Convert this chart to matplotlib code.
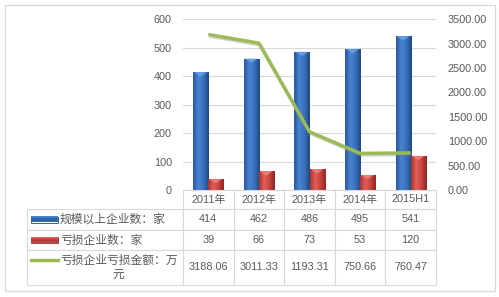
import numpy as np
import matplotlib
matplotlib.use("Agg")
import matplotlib.pyplot as plt
from matplotlib.patches import Rectangle, Polygon
from matplotlib.lines import Line2D
from matplotlib.colors import LinearSegmentedColormap
import matplotlib.patheffects as pe

plt.rcParams['font.family'] = ['Liberation Sans', 'Noto Sans CJK SC', 'DejaVu Sans']

categories = ['2011年', '2012年', '2013年', '2014年', '2015H1']
firms_total = [414, 462, 486, 495, 541]
firms_loss = [39, 66, 73, 53, 120]
loss_amount = [3188.06, 3011.33, 1193.31, 750.66, 760.47]
series_names = ['规模以上企业数：家', '亏损企业数：家', '亏损企业亏损金额：万\n元']
loss_amount_labels = ['3188.06', '3011.33', '1193.31', '750.66', '760.47']

TXT = '#595959'
GRID = '#D9D9D9'

W, H = 499, 297
fig = plt.figure(figsize=(W / 100, H / 100), dpi=100)

# layout in pixels
ax_l, ax_r, ax_b, ax_t = 183, 436, 190, 19.3
ax = fig.add_axes([ax_l / W, (H - ax_b) / H, (ax_r - ax_l) / W, (ax_b - ax_t) / H])
axw, axh = ax_r - ax_l, ax_b - ax_t

# outer frame
fig.patches.append(Rectangle((5 / W, (H - 291) / H), 490 / W, 286 / H,
                             transform=fig.transFigure, fill=False,
                             edgecolor=GRID, linewidth=0.9))

x = np.arange(len(categories))
bw = 0.3

blue_cmap = LinearSegmentedColormap.from_list('b', ['#2a5798', '#4a85d0', '#3a70bb', '#1f4780'])
red_cmap = LinearSegmentedColormap.from_list('r', ['#a93330', '#e0605b', '#c8423e', '#8e2522'])
grad = np.linspace(0, 1, 64).reshape(1, -1)

bars1 = ax.bar(x - bw / 2, firms_total, bw, color='#3567b0', zorder=2)
bars2 = ax.bar(x + bw / 2, firms_loss, bw, color='#c0443f', zorder=2)
cap_d = 4 / axh * 600
for bars, cm, capc in ((bars1, blue_cmap, '#6aa6ec'), (bars2, red_cmap, '#ee8581')):
    for b in bars:
        x0, w, h = b.get_x(), b.get_width(), b.get_height()
        im = ax.imshow(grad, cmap=cm, extent=(x0, x0 + w, 0, h), aspect='auto',
                       zorder=2.1, interpolation='bicubic')
        im.set_clip_path(b)
        ax.add_patch(Polygon([(x0 + w * 0.08, h), (x0 + w * 0.92, h),
                              (x0 + w * 0.55, h - cap_d), (x0 + w * 0.45, h - cap_d)],
                             closed=True, facecolor=capc, edgecolor='none',
                             alpha=0.8, zorder=2.2))

ax.set_xlim(-0.5, len(categories) - 0.5)
ax.set_ylim(0, 600)
ax.set_yticks(np.arange(0, 601, 100))
ax.set_xticks([])
ax.yaxis.grid(True, color=GRID, linewidth=0.8, zorder=0)
ax.set_axisbelow(True)
for s in ('left', 'right', 'top'):
    ax.spines[s].set_visible(False)
ax.spines['bottom'].set_color(GRID)
ax.spines['bottom'].set_linewidth(0.8)
ax.tick_params(axis='y', length=0, pad=8, labelsize=7.8, labelcolor=TXT)

ax2 = ax.twinx()
ax2.set_ylim(0, 3500)
ax2.set_yticks(np.arange(0, 3501, 500))
ax2.set_yticklabels(['%.2f' % v for v in np.arange(0, 3501, 500)])
for s in ax2.spines.values():
    s.set_visible(False)
ax2.tick_params(axis='y', length=0, pad=8.6, labelsize=7.8, labelcolor=TXT)
ax2.plot(x, loss_amount, color='#9bbb59', linewidth=2.5, solid_capstyle='butt',
         path_effects=[pe.SimpleLineShadow(offset=(0.8, -1.2), shadow_color='#808080', alpha=0.35),
                       pe.Normal()])

# data table
hdr_h, rh = 19 / axh, [21 / axh, 20 / axh, 35 / axh]
tot_h = hdr_h + sum(rh)
cell_text = [[str(v) for v in firms_total], [str(v) for v in firms_loss], loss_amount_labels]
tb = ax.table(cellText=cell_text, colLabels=categories, cellLoc='center', colLoc='center',
              bbox=[0, -tot_h, 1, tot_h])
tb.auto_set_font_size(False)
lab_w = (ax_l - 27) / axw
for r in range(1, 4):
    tb.add_cell(r, -1, width=lab_w, height=rh[r - 1], text='', loc='left')
for (r, c), cell in tb.get_celld().items():
    cell.set_edgecolor(GRID)
    cell.set_linewidth(0.8)
    cell.set_height(hdr_h if r == 0 else rh[r - 1])
    if c >= 0:
        cell.set_width(1 / len(categories))
    cell.get_text().set_color(TXT)
    cell.get_text().set_fontsize(7.8)

# row labels with legend keys
row_centers = [-(hdr_h + sum(rh[:i]) + rh[i] / 2) for i in range(3)]
tx = (60 - ax_l) / axw
k0, k1 = (31 - ax_l) / axw, (58 - ax_l) / axw
kh = 6 / axh
for i, (name, yc) in enumerate(zip(series_names, row_centers)):
    ax.text(tx, yc, name, transform=ax.transAxes, ha='left', va='center',
            multialignment='center', fontsize=8.5, color=TXT,
            family=['Noto Sans CJK SC', 'DejaVu Sans'], linespacing=1.1)
for yc, cm, ec in ((row_centers[0], blue_cmap, '#1f4780'), (row_centers[1], red_cmap, '#8e2522')):
    rect = Rectangle((k0, yc - kh / 2), k1 - k0, kh, transform=ax.transAxes,
                     facecolor='none', edgecolor=ec, linewidth=0.6, clip_on=False)
    ax.add_patch(rect)
    vg = np.array([[0.9], [0.45], [0.1], [0.55]])
    ax.imshow(vg, cmap=LinearSegmentedColormap.from_list('k', [cm(0.0), cm(0.33)]),
              extent=(k0, k1, yc - kh / 2, yc + kh / 2), transform=ax.transAxes,
              aspect='auto', interpolation='bicubic', clip_on=False, zorder=3)
ax.add_line(Line2D([k0, k1], [row_centers[2] + 8 / axh] * 2, transform=ax.transAxes,
                   color='#9bbb59', linewidth=2.5, clip_on=False))

fig.savefig('out.png', dpi=100)
